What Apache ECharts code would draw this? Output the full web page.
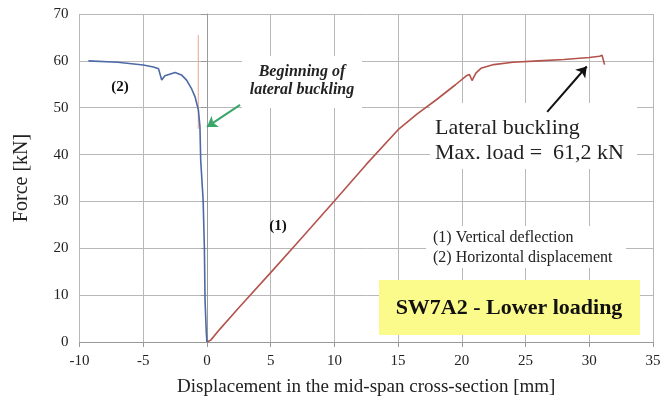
<!DOCTYPE html>
<html><head><meta charset="utf-8">
<script src="https://cdn.jsdelivr.net/npm/echarts@6/dist/echarts.min.js"></script>
<style>html,body{margin:0;padding:0;background:#fff}#c{width:666px;height:410px}</style>
</head><body><div id="c"></div>
<script>
// (1) Vertical deflection
const redX = [0, 0.3, 1, 2.5, 5, 7.5, 10, 12.5, 15, 16.5, 18, 19.5, 20.4, 20.6, 20.8, 21.1, 21.5, 22.5, 24, 26, 28, 30, 30.8, 31.0, 31.1, 31.2];
const redY = [0, 0.4, 2.7, 7.3, 14.8, 22.4, 30.1, 37.9, 45.3, 48.7, 51.7, 54.9, 56.9, 57.1, 55.8, 57.4, 58.4, 59.2, 59.7, 60.0, 60.3, 60.7, 61.0, 61.2, 61.1, 59.2];
// (2) Horizontal displacement
const blueX = [-9.3, -7, -5, -4.2, -3.8, -3.55, -3.3, -2.5, -2, -1.6, -1.2, -0.93, -0.67, -0.55, -0.49, -0.3, -0.2, -0.15, -0.05, 0];
const blueY = [60.0, 59.7, 59.1, 58.7, 58.3, 55.9, 56.8, 57.5, 57.0, 55.9, 54.0, 52.3, 49.5, 46.0, 38.8, 30.3, 20.0, 9.0, 2.0, 0];
// thin reference line near x = 0
const refX = [-0.68, -0.68];
const refY = [65.5, 45.5];
// arrows [x1, y1, x2, y2]
const greenArrow = [2.6, 50.6, 0.0, 45.9];
const blackArrow = [26.7, 49.1, 29.8, 58.8];
const xMin = -10, xMax = 35, xStep = 5;
const yMin = 0, yMax = 70, yStep = 10;

const zip = (a, b) => a.map((v, i) => [v, b[i]]);
const serif = "'Liberation Serif','Times New Roman',serif";
const chart = echarts.init(document.getElementById('c'), null, {renderer: 'canvas'});
chart.setOption({
  animation: false,
  backgroundColor: '#fff',
  grid: {left: 79.5, right: 13, top: 14, bottom: 68},
  xAxis: {
    type: 'value', min: xMin, max: xMax, interval: xStep,
    name: 'Displacement in the mid-span cross-section [mm]', nameLocation: 'middle', nameGap: 36,
    nameTextStyle: {fontFamily: serif, fontSize: 19, color: '#222'},
    axisLine: {show: true, lineStyle: {color: '#999', width: 1}},
    axisTick: {show: true, length: 5, lineStyle: {color: '#999'}},
    axisLabel: {fontFamily: serif, fontSize: 15, color: '#222', margin: 12},
    splitLine: {show: true, lineStyle: {color: '#b8b8b8', width: 1}}
  },
  yAxis: {
    type: 'value', min: yMin, max: yMax, interval: yStep,
    name: 'Force [kN]', nameLocation: 'middle', nameGap: 48,
    nameTextStyle: {fontFamily: serif, fontSize: 20, color: '#222'},
    axisLine: {show: true, lineStyle: {color: '#999', width: 1}},
    axisTick: {show: true, length: 6, lineStyle: {color: '#999'}},
    axisLabel: {fontFamily: serif, fontSize: 15, color: '#222', margin: 11},
    splitLine: {show: true, lineStyle: {color: '#b8b8b8', width: 1}}
  },
  series: [
    {type: 'line', data: zip(refX, refY), showSymbol: false, z: 3,
     lineStyle: {color: '#eaa090', width: 1}},
    {type: 'line', data: zip(redX, redY), showSymbol: false, z: 4,
     lineStyle: {color: '#b4524c', width: 1.6}},
    {type: 'line', data: zip(blueX, blueY), showSymbol: false, z: 4,
     lineStyle: {color: '#4d6aa6', width: 1.6},
     markLine: {
       silent: true, symbol: ['none', 'arrow'], symbolSize: 10, label: {show: false},
       data: [
         [{coord: [greenArrow[0], greenArrow[1]], lineStyle: {color: '#3aa66a', width: 2, type: 'solid'}},
          {coord: [greenArrow[2], greenArrow[3]]}],
         [{coord: [blackArrow[0], blackArrow[1]], lineStyle: {color: '#111', width: 2, type: 'solid'}},
          {coord: [blackArrow[2], blackArrow[3]]}]
       ]
     }}
  ],
  graphic: [
    {type: 'rect', z: 1, shape: {x: 242, y: 56, width: 120, height: 52}, style: {fill: '#fff'}},
    {type: 'rect', z: 1, shape: {x: 430, y: 103, width: 207, height: 66}, style: {fill: '#fff'}},
    {type: 'rect', z: 1, shape: {x: 426, y: 226, width: 200, height: 42}, style: {fill: '#fff'}},
    {type: 'rect', z: 1, shape: {x: 379, y: 280, width: 261, height: 55}, style: {fill: '#fbfb8c'}},
    {type: 'text', z: 10, style: {x: 120, y: 87, text: '(2)', font: 'bold 15px ' + serif, fill: '#111', align: 'center', verticalAlign: 'middle'}},
    {type: 'text', z: 10, style: {x: 278, y: 226, text: '(1)', font: 'bold 15px ' + serif, fill: '#111', align: 'center', verticalAlign: 'middle'}},
    {type: 'text', z: 10, style: {x: 302, y: 72, text: 'Beginning of', font: 'italic bold 16px ' + serif, fill: '#222', align: 'center', verticalAlign: 'middle'}},
    {type: 'text', z: 10, style: {x: 302, y: 90, text: 'lateral buckling', font: 'italic bold 16px ' + serif, fill: '#222', align: 'center', verticalAlign: 'middle'}},
    {type: 'text', z: 10, style: {x: 435, y: 128, text: 'Lateral buckling', font: '22px ' + serif, fill: '#222', align: 'left', verticalAlign: 'middle'}},
    {type: 'text', z: 10, style: {x: 435, y: 153, text: 'Max. load =  61,2 kN', font: '22px ' + serif, fill: '#222', align: 'left', verticalAlign: 'middle'}},
    {type: 'text', z: 10, style: {x: 433, y: 238, text: '(1) Vertical deflection', font: '16px ' + serif, fill: '#222', align: 'left', verticalAlign: 'middle'}},
    {type: 'text', z: 10, style: {x: 433, y: 258, text: '(2) Horizontal displacement', font: '16px ' + serif, fill: '#222', align: 'left', verticalAlign: 'middle'}},
    {type: 'text', z: 10, style: {x: 509, y: 308, text: 'SW7A2 - Lower loading', font: 'bold 22px ' + serif, fill: '#111', align: 'center', verticalAlign: 'middle'}}
  ]
});
</script></body></html>
